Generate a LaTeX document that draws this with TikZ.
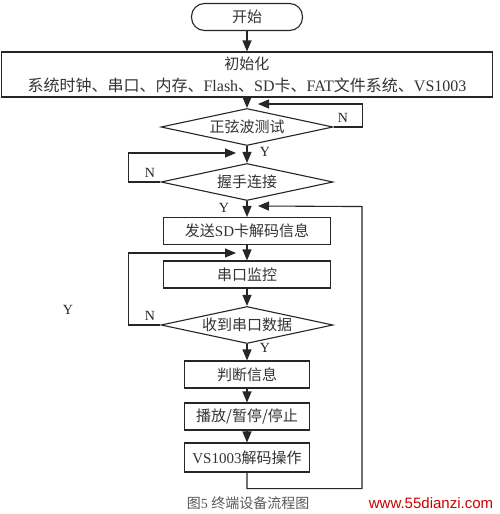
\documentclass[tikz,border=0pt]{standalone}
\usepackage{fontspec}
\setmainfont{Liberation Serif}
\newfontfamily\cjk{Noto Sans CJK SC}
\newfontfamily\wmfont{Liberation Sans}
\usetikzlibrary{shapes.geometric,arrows.meta}
\begin{document}
\begin{tikzpicture}[x=1pt,y=-1pt,
  every node/.style={font=\fontsize{15}{17}\selectfont, text=black!80},
  line/.style={draw=black!85, line width=1.1pt},
  arr/.style={line, -{Triangle[length=11pt,width=9pt]}},
  box/.style={line, rectangle, inner sep=0pt, minimum height=27pt},
  dia/.style={line, diamond, aspect=4.6, inner sep=0pt, minimum width=172pt, minimum height=37pt},
  lab/.style={font=\fontsize{14}{16}\selectfont, text=black!85}]
\useasboundingbox (0,0) rectangle (500,514);
\fill[white] (0,0) rectangle (500,514);
% nodes
\node[line, rectangle, rounded corners=13pt, minimum width=111pt, minimum height=27pt, inner sep=0pt] (start) at (247,17) {\cjk 开始};
\node[box, minimum width=491pt, minimum height=45pt, align=center, font=\fontsize{15}{22}\selectfont] (init) at (247,74.5)
  {{\cjk 初始化}\\{\fontsize{16}{22}\selectfont{\cjk 系统时钟、串口、内存、}Flash{\cjk 、}SD{\cjk 卡、}FAT{\cjk 文件系统、}VS1003}};
\node[dia] (d1) at (247,127) {\cjk 正弦波测试};
\node[dia] (d2) at (247,182) {\cjk 握手连接};
\node[box, minimum width=167pt] (send) at (247,231) {{\cjk 发送}SD{\cjk 卡解码信息}};
\node[box, minimum width=167pt] (mon) at (247,274.5) {\cjk 串口监控};
\node[dia] (d3) at (247,325) {\cjk 收到串口数据};
\node[box, minimum width=125pt] (judge) at (247,374.5) {\cjk 判断信息};
\node[box, minimum width=125pt] (play) at (247,416.5) {\cjk 播放/暂停/停止};
\node[box, minimum width=125pt, minimum height=29pt] (dec) at (247,457.5) {VS1003{\cjk 解码操作}};
% coordinates for loop ends
\coordinate (j1) at (258,104);
\coordinate (j2) at (236,153);
\coordinate (j3) at (258,206);
\coordinate (j4) at (236,253);
% connectors
\draw[arr] (start) -- (init);
\draw[arr] (init) -- (d1);
\draw[arr] (d1) -- (d2);
\draw[arr] (d2) -- (send);
\draw[arr] (send) -- (mon);
\draw[arr] (mon) -- (d3);
\draw[arr] (d3) -- (judge);
\draw[arr] (judge) -- (play);
\draw[arr] (play) -- (dec);
\draw[arr] (d1.east) -- ++(29,0) |- (j1);
\draw[arr] (d2.west) -- ++(-32,0) |- (j2);
\draw[arr] (d3.west) -- ++(-32,0) |- (j4);
\draw[arr] (dec.south) -- ++(0,16) -| ++(115,-282) -- (j3);
% labels
\node[lab] (n1) at (343,118) {N};
\node[lab] (y1) at (265,152) {Y};
\node[lab] (n2) at (150,173) {N};
\node[lab] (y2) at (224,208) {Y};
\node[lab] (n3) at (150,316) {N};
\node[lab] (y3) at (265,348) {Y};
\node[lab] (y0) at (68,310) {Y};
% caption and watermark
\node[font=\fontsize{14}{16}\selectfont, text=black!65] (cap) at (248,503) {{\cjk 图}5 {\cjk 终端设备流程图}};
\node[font=\wmfont\fontsize{15}{17}\selectfont, text=red!80!black] (wm) at (431,503) {www.55dianzi.com};
\end{tikzpicture}
\end{document}
